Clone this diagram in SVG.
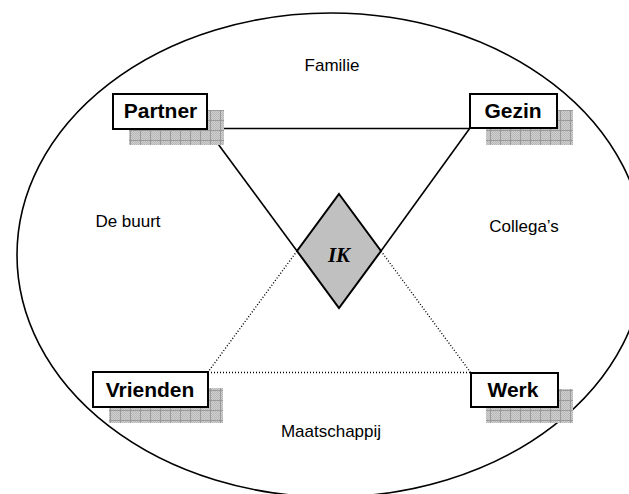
<svg xmlns="http://www.w3.org/2000/svg" width="629" height="494" viewBox="0 0 629 494">
<style>
.box{fill:#fff;stroke:#000;stroke-width:2}
.shadow{fill:url(#grid)}
.lbl{font-family:"Liberation Sans",Arial,sans-serif;font-size:17px;fill:#000;text-anchor:middle}
.node{font-family:"Liberation Sans",Arial,sans-serif;font-size:21px;font-weight:bold;fill:#000;text-anchor:middle}
.solid{stroke:#000;stroke-width:1.6;fill:none}
.dot{stroke:#000;stroke-width:1.4;stroke-dasharray:1 2;fill:none}
</style>
<defs>
<pattern id="fine" width="2" height="2" patternUnits="userSpaceOnUse">
<rect width="2" height="2" fill="#cfcfcf"/>
<rect width="1" height="1" fill="#b8b8b8"/>
<rect x="1" y="1" width="1" height="1" fill="#b8b8b8"/>
</pattern>
<pattern id="grid" width="10" height="10" patternUnits="userSpaceOnUse" x="0" y="0">
<rect width="10" height="10" fill="url(#fine)"/>
<path d="M0 0.5H10M0.5 0V10" stroke="#9a9a9a" stroke-width="1"/>
</pattern>
</defs>
<ellipse cx="331" cy="255" rx="314" ry="242" fill="none" stroke="#000" stroke-width="1.6"/>
<g id="labels">
<text class="lbl" x="332" y="71">Familie</text>
<text class="lbl" x="128" y="227">De buurt</text>
<text class="lbl" x="524" y="232">Collega’s</text>
<text class="lbl" x="331" y="437">Maatschappij</text>
</g>
<g id="connectors">
<line class="solid" x1="207" y1="128.5" x2="470" y2="128.5"/>
<line class="solid" x1="207" y1="129" x2="297" y2="251"/>
<line class="solid" x1="470" y1="128" x2="381" y2="251"/>
<line class="dot" x1="297" y1="251" x2="208" y2="372"/>
<line class="dot" x1="381" y1="251" x2="471" y2="373"/>
<line class="dot" x1="208" y1="372.5" x2="471" y2="372.5"/>
</g>
<g id="partner">
<rect class="shadow" x="129" y="110" width="95" height="35"/>
<rect class="box" x="113" y="94" width="94" height="35"/>
<text class="node" x="160.5" y="118">Partner</text>
</g>
<g id="gezin">
<rect class="shadow" x="486" y="110" width="87" height="35"/>
<rect class="box" x="470" y="94" width="87" height="34"/>
<text class="node" x="513" y="118">Gezin</text>
</g>
<g id="vrienden">
<rect class="shadow" x="109" y="388" width="114" height="35"/>
<rect class="box" x="93" y="372" width="115" height="35"/>
<text class="node" x="150" y="397">Vrienden</text>
</g>
<g id="werk">
<rect class="shadow" x="486" y="389" width="87" height="34"/>
<rect class="box" x="471" y="373" width="87" height="34"/>
<text class="node" x="513" y="397">Werk</text>
</g>
<g id="ik">
<polygon points="339,194 381,251 339,308 297,251" fill="#c0c0c0" stroke="#000" stroke-width="2"/>
<text x="339" y="262" font-family="'Liberation Serif','Times New Roman',serif" font-size="21" font-weight="bold" font-style="italic" text-anchor="middle">IK</text>
</g>
</svg>
